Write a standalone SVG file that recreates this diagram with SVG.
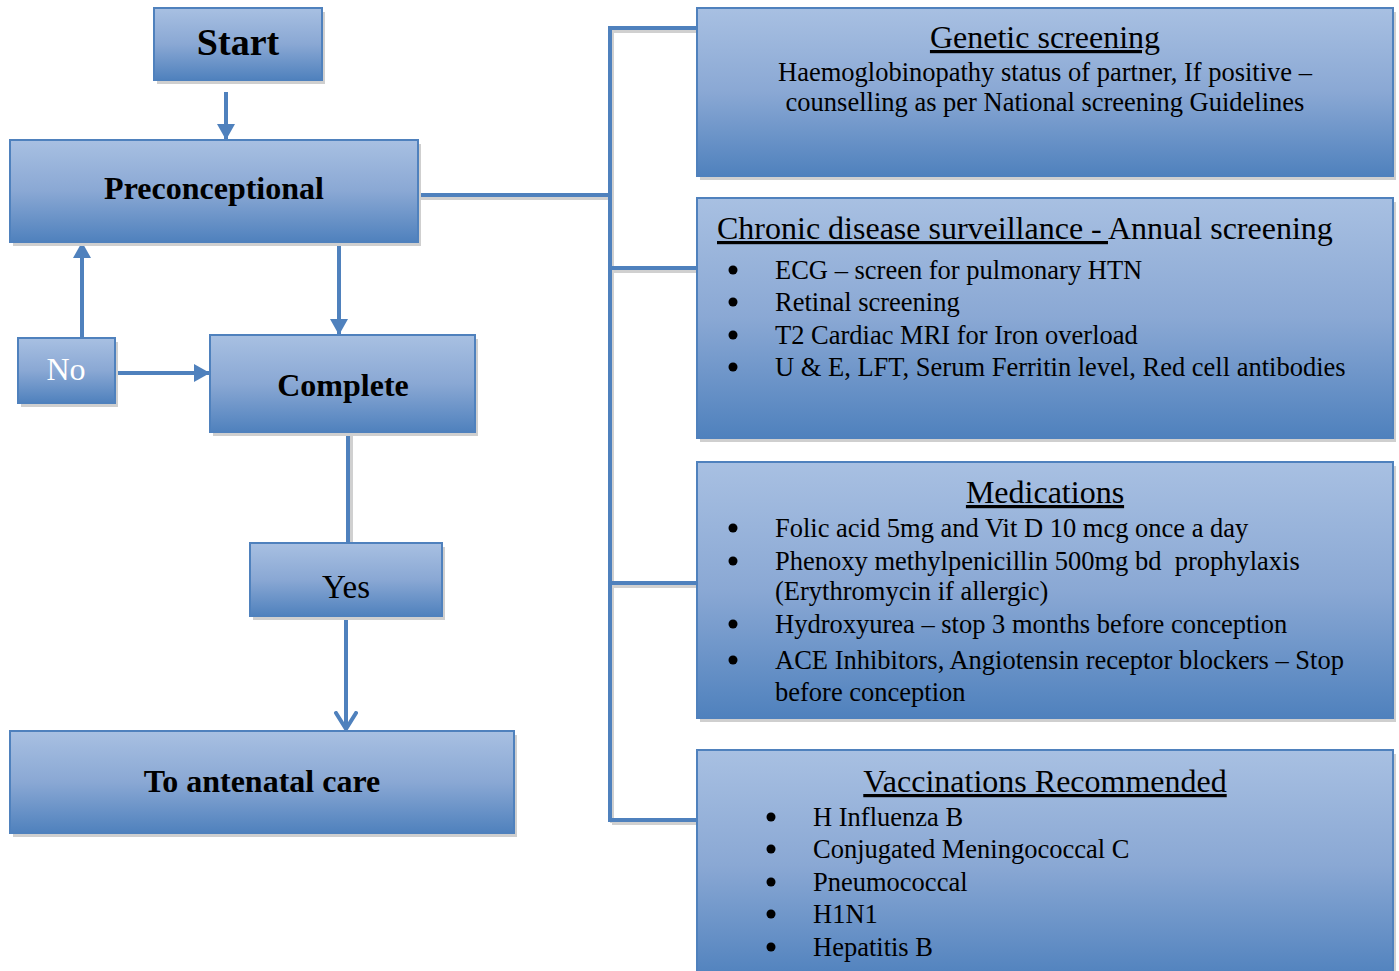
<svg xmlns="http://www.w3.org/2000/svg" width="1399" height="971" viewBox="0 0 1399 971">
<style>
.box{fill:url(#g);stroke:#4f81bd;stroke-width:2}
.sh{fill:#cfcfcf}
.ln{fill:none;stroke:#4f81bd;stroke-width:4}
.lnsh{fill:none;stroke:#d0d0d0;stroke-width:4}
.dot{fill:#000}
text{font-family:"Liberation Serif","Times New Roman",serif;fill:#000}
.b{font-weight:bold}
.c{text-anchor:middle}
.h{font-size:32px}
.t{font-size:26.5px}
.u{text-decoration:underline}
</style>
<defs>
<linearGradient id="g" x1="0" y1="0" x2="0" y2="1">
<stop offset="0" stop-color="#a8c0e2"/>
<stop offset="0.5" stop-color="#8aa8d4"/>
<stop offset="1" stop-color="#4f81bd"/>
</linearGradient>
<marker id="ah" markerUnits="userSpaceOnUse" markerWidth="20" markerHeight="20" refX="16" refY="9" orient="auto">
<path d="M0,0 L16,9 L0,18 Z" fill="#4f81bd"/>
</marker>
<marker id="ch" markerUnits="userSpaceOnUse" markerWidth="24" markerHeight="26" refX="18" refY="12" orient="auto">
<path d="M2,2 L18,12 L2,22" fill="none" stroke="#4f81bd" stroke-width="4" stroke-linecap="round" stroke-linejoin="round"/>
</marker>
</defs>
<rect width="1399" height="971" fill="#fff"/>

<g id="connectors">
<path class="lnsh" d="M420,198 H612 M612,31 V823 M612,31 H697 M612,271 H697 M612,586 H697 M612,823 H697 M351,434 V543"/>
<path class="ln" d="M418,195 H610 M610,28 V820 M608,28 H697 M610,268 H697 M610,583 H697 M608,820 H697"/>
<path class="ln" d="M226,92 V140" marker-end="url(#ah)"/>
<path class="ln" d="M339,242 V335" marker-end="url(#ah)"/>
<path class="ln" d="M82,338 V242" marker-end="url(#ah)"/>
<path class="ln" d="M115,373 H210" marker-end="url(#ah)"/>
<path class="ln" d="M348,432 V543"/>
<path class="ln" d="M346,616 V729" marker-end="url(#ch)"/>
</g>

<g id="start">
<rect class="sh" x="157" y="12" width="168" height="72"/>
<rect class="box" x="154" y="8" width="168" height="72"/>
<text class="b c" x="238" y="55" font-size="38">Start</text>
</g>

<g id="preconceptional">
<rect class="sh" x="13" y="144" width="408" height="102"/>
<rect class="box" x="10" y="140" width="408" height="102"/>
<text class="b c h" x="214" y="199">Preconceptional</text>
</g>

<g id="no">
<rect class="sh" x="21" y="342" width="97" height="65"/>
<rect class="box" x="18" y="338" width="97" height="65"/>
<text class="c" x="66" y="380" font-size="32" style="fill:#fff">No</text>
</g>

<g id="complete">
<rect class="sh" x="213" y="339" width="265" height="97"/>
<rect class="box" x="210" y="335" width="265" height="97"/>
<text class="b c h" x="343" y="396">Complete</text>
</g>

<g id="yes">
<rect class="sh" x="253" y="547" width="192" height="73"/>
<rect class="box" x="250" y="543" width="192" height="73"/>
<text class="c" x="346" y="598" font-size="33">Yes</text>
</g>

<g id="antenatal">
<rect class="sh" x="13" y="735" width="504" height="102"/>
<rect class="box" x="10" y="731" width="504" height="102"/>
<text class="b c h" x="262" y="792">To antenatal care</text>
</g>

<g id="genetic">
<rect class="sh" x="700" y="12" width="696" height="168"/>
<rect class="box" x="697" y="8" width="696" height="168"/>
<text class="c h u" x="1045" y="48">Genetic screening</text>
<text class="c t" x="1045" y="81">Haemoglobinopathy status of partner, If positive –</text>
<text class="c t" x="1045" y="111">counselling as per National screening Guidelines</text>
</g>

<g id="chronic">
<rect class="sh" x="700" y="202" width="696" height="240"/>
<rect class="box" x="697" y="198" width="696" height="240"/>
<text class="h" x="717" y="239"><tspan class="u">Chronic disease surveillance - </tspan>Annual screening</text>
<circle class="dot" cx="733" cy="270" r="4.5"/><text class="t" x="775" y="279">ECG – screen for pulmonary HTN</text>
<circle class="dot" cx="733" cy="302" r="4.5"/><text class="t" x="775" y="311">Retinal screening</text>
<circle class="dot" cx="733" cy="335" r="4.5"/><text class="t" x="775" y="344">T2 Cardiac MRI for Iron overload</text>
<circle class="dot" cx="733" cy="367" r="4.5"/><text class="t" x="775" y="376">U &amp; E, LFT, Serum Ferritin level, Red cell antibodies</text>
</g>

<g id="medications">
<rect class="sh" x="700" y="466" width="696" height="256"/>
<rect class="box" x="697" y="462" width="696" height="256"/>
<text class="c h u" x="1045" y="503">Medications</text>
<circle class="dot" cx="733" cy="528" r="4.5"/><text class="t" x="775" y="537">Folic acid 5mg and Vit D 10 mcg once a day</text>
<circle class="dot" cx="733" cy="561" r="4.5"/><text class="t" x="775" y="570" xml:space="preserve">Phenoxy methylpenicillin 500mg bd  prophylaxis</text>
<text class="t" x="775" y="600">(Erythromycin if allergic)</text>
<circle class="dot" cx="733" cy="624" r="4.5"/><text class="t" x="775" y="633">Hydroxyurea – stop 3 months before conception</text>
<circle class="dot" cx="733" cy="660" r="4.5"/><text class="t" x="775" y="669">ACE Inhibitors, Angiotensin receptor blockers – Stop</text>
<text class="t" x="775" y="701">before conception</text>
</g>

<g id="vaccinations">
<rect class="sh" x="700" y="754" width="696" height="230"/>
<rect class="box" x="697" y="750" width="696" height="230"/>
<text class="c h u" x="1045" y="792">Vaccinations Recommended</text>
<circle class="dot" cx="771" cy="817" r="4.5"/><text class="t" x="813" y="826">H Influenza B</text>
<circle class="dot" cx="771" cy="849" r="4.5"/><text class="t" x="813" y="858">Conjugated Meningococcal C</text>
<circle class="dot" cx="771" cy="882" r="4.5"/><text class="t" x="813" y="891">Pneumococcal</text>
<circle class="dot" cx="771" cy="914" r="4.5"/><text class="t" x="813" y="923">H1N1</text>
<circle class="dot" cx="771" cy="947" r="4.5"/><text class="t" x="813" y="956">Hepatitis B</text>
</g>
</svg>
